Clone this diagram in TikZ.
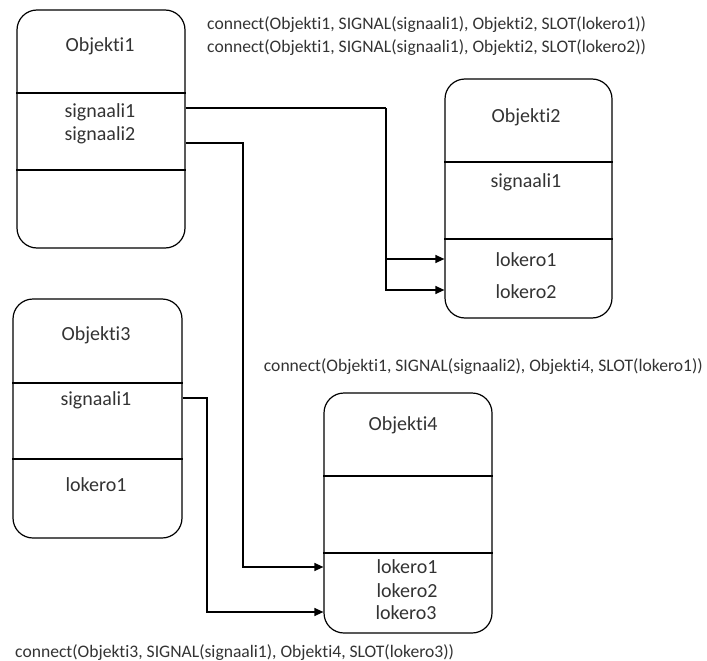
\documentclass[tikz,border=0pt]{standalone}
\usepackage{fontspec}
\setmainfont{Carlito}[Ligatures={NoCommon,NoRequired,NoContextual},RawFeature={-liga;-clig;-dlig}]
\usetikzlibrary{arrows.meta}
\definecolor{txt}{HTML}{333333}
\begin{document}
\begin{tikzpicture}[x=1pt,y=-1pt,
  objbox/.style={draw=black,line width=1.2pt,rounded corners=20pt,inner sep=0pt},
  divline/.style={draw=black,line width=1.2pt},
  lbl/.style={text=txt,font=\fontsize{20}{22}\selectfont,inner sep=0pt,anchor=center},
  conntxt/.style={text=txt,font=\fontsize{17.6}{19}\selectfont,inner sep=0pt,anchor=west},
  wire/.style={draw=black,line width=1.2pt,-{Triangle[length=9pt,width=8pt]}},
  plainwire/.style={draw=black,line width=1.2pt}]
\useasboundingbox (0,0) rectangle (707,661);
% boxes
\node[objbox,minimum width=168pt,minimum height=238pt] (O1) at (101,129) {};
\node[objbox,minimum width=167pt,minimum height=239pt] (O2) at (528.5,198.5) {};
\node[objbox,minimum width=169pt,minimum height=239pt] (O3) at (97.5,418.5) {};
\node[objbox,minimum width=168pt,minimum height=240pt] (O4) at (408,513) {};
% dividers
\draw[divline] (O1.west |- 0,93) -- (O1.east |- 0,93);
\draw[divline] (O1.west |- 0,170) -- (O1.east |- 0,170);
\draw[divline] (O2.west |- 0,162) -- (O2.east |- 0,162);
\draw[divline] (O2.west |- 0,239) -- (O2.east |- 0,239);
\draw[divline] (O3.west |- 0,383) -- (O3.east |- 0,383);
\draw[divline] (O3.west |- 0,459) -- (O3.east |- 0,459);
\draw[divline] (O4.west |- 0,476) -- (O4.east |- 0,476);
\draw[divline] (O4.west |- 0,553) -- (O4.east |- 0,553);
% labels
\node[lbl] (o1n) at (100,46) {Objekti1};
\node[lbl] (o1s1) at (100,112) {signaali1};
\node[lbl] (o1s2) at (100,135) {signaali2};
\node[lbl] (o2n) at (526,117) {Objekti2};
\node[lbl] (o2s1) at (526,182) {signaali1};
\node[lbl] (o2l1) at (526,260) {lokero1};
\node[lbl] (o2l2) at (526,292) {lokero2};
\node[lbl] (o3n) at (96,335) {Objekti3};
\node[lbl] (o3s1) at (96,400) {signaali1};
\node[lbl] (o3l1) at (96,485) {lokero1};
\node[lbl] (o4n) at (403,425) {Objekti4};
\node[lbl] (o4l1) at (407,567) {lokero1};
\node[lbl] (o4l2) at (407,591) {lokero2};
\node[lbl] (o4l3) at (406,613) {lokero3};
% connect texts
\node[conntxt] (c1) at (207,25) {connect(Objekti1, SIGNAL(signaali1), Objekti2, SLOT(lokero1))};
\node[conntxt] (c2) at (207,48) {connect(Objekti1, SIGNAL(signaali1), Objekti2, SLOT(lokero2))};
\node[conntxt,anchor=east] (c3) at (703,367) {connect(Objekti1, SIGNAL(signaali2), Objekti4, SLOT(lokero1))};
\node[conntxt] (c4) at (15,653) {connect(Objekti3, SIGNAL(signaali1), Objekti4, SLOT(lokero3))};
% connectors
\coordinate (j1) at (386,108);
\draw[plainwire] (O1.east |- j1) -- (j1);
\draw[wire] (j1) |- (O2.west |- 0,259);
\draw[wire] (j1) |- (O2.west |- 0,290);
\draw[wire] (O1.east |- 0,143) -| (243,300) |- (O4.west |- 0,567);
\draw[wire] (O3.east |- 0,398) -| (207,500) |- (O4.west |- 0,612);
\end{tikzpicture}
\end{document}
